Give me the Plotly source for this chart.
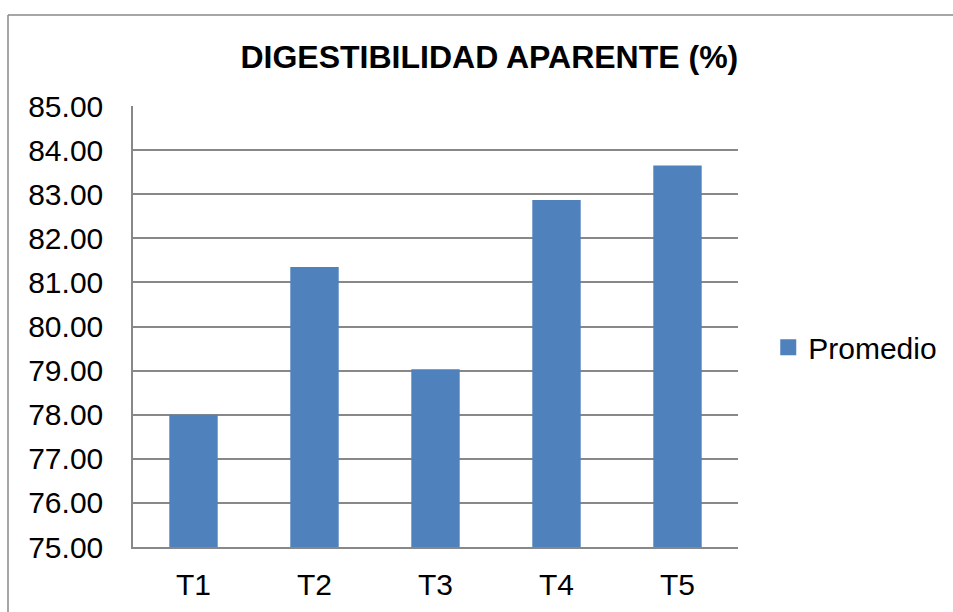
import plotly.graph_objects as go

categories = ["T1", "T2", "T3", "T4", "T5"]
promedio = [78.00, 81.35, 79.03, 82.87, 83.65]
y_ticks = [75, 76, 77, 78, 79, 80, 81, 82, 83, 84, 85]
y_tick_labels = [f"{v:.2f}" for v in y_ticks]

BAR = "#4F81BD"
GRID = "#888888"
FONT = "Liberation Sans, Arial, sans-serif"
FS = 30

fig = go.Figure()
fig.add_trace(go.Bar(
    x=categories, y=promedio, name="Promedio",
    marker=dict(color=BAR, line=dict(width=0)),
    showlegend=False,
))
# legend proxy (larger square symbol)
fig.add_trace(go.Scatter(
    x=[None], y=[None], mode="markers", name="Promedio",
    marker=dict(symbol="square", size=17, color=BAR),
    showlegend=True,
))

fig.update_layout(
    width=953, height=612, autosize=False,
    margin=dict(l=133, r=215, t=106, b=65, autoexpand=False),
    paper_bgcolor="white", plot_bgcolor="white",
    font=dict(family=FONT, color="black", size=FS),
    bargap=0.6,
    title=dict(
        text="DIGESTIBILIDAD APARENTE (%)",
        font=dict(family=FONT, size=32, weight="bold", color="black"),
        x=0.589, xref="paper", xanchor="center",
        y=1 - 57 / 612, yref="container", yanchor="middle",
    ),
    legend=dict(
        x=1.05, xanchor="left", y=0.453, yanchor="middle",
        font=dict(family=FONT, size=FS),
        bgcolor="rgba(0,0,0,0)",
        itemsizing="trace",
    ),
    xaxis=dict(
        showgrid=False, showline=True, linecolor=GRID, linewidth=1.5,
        ticks="outside", ticklen=10, tickcolor="rgba(0,0,0,0)",
        tickfont=dict(family=FONT, size=FS), automargin=False,
    ),
    yaxis=dict(
        range=[75, 85], tickvals=y_ticks, ticktext=y_tick_labels,
        showgrid=True, gridcolor=GRID, gridwidth=1.5,
        showline=True, linecolor=GRID, linewidth=1.5,
        ticks="outside", ticklen=22, tickcolor="rgba(0,0,0,0)",
        tickfont=dict(family=FONT, size=FS),
        zeroline=False, automargin=False,
    ),
    shapes=[
        dict(type="line", xref="paper", yref="paper",
             x0=(8 - 133) / 605, x1=1.5, y0=(547 - 15) / 441, y1=(547 - 15) / 441,
             line=dict(color=GRID, width=1.5)),
        dict(type="line", xref="paper", yref="paper",
             x0=(8 - 133) / 605, x1=(8 - 133) / 605, y0=(547 - 15) / 441, y1=-0.5,
             line=dict(color=GRID, width=1.5)),
    ],
)

fig.write_html(
    "out.html",
    config={"responsive": False, "displayModeBar": False},
    post_script="document.body.style.margin='0';document.body.style.overflow='hidden';",
)
